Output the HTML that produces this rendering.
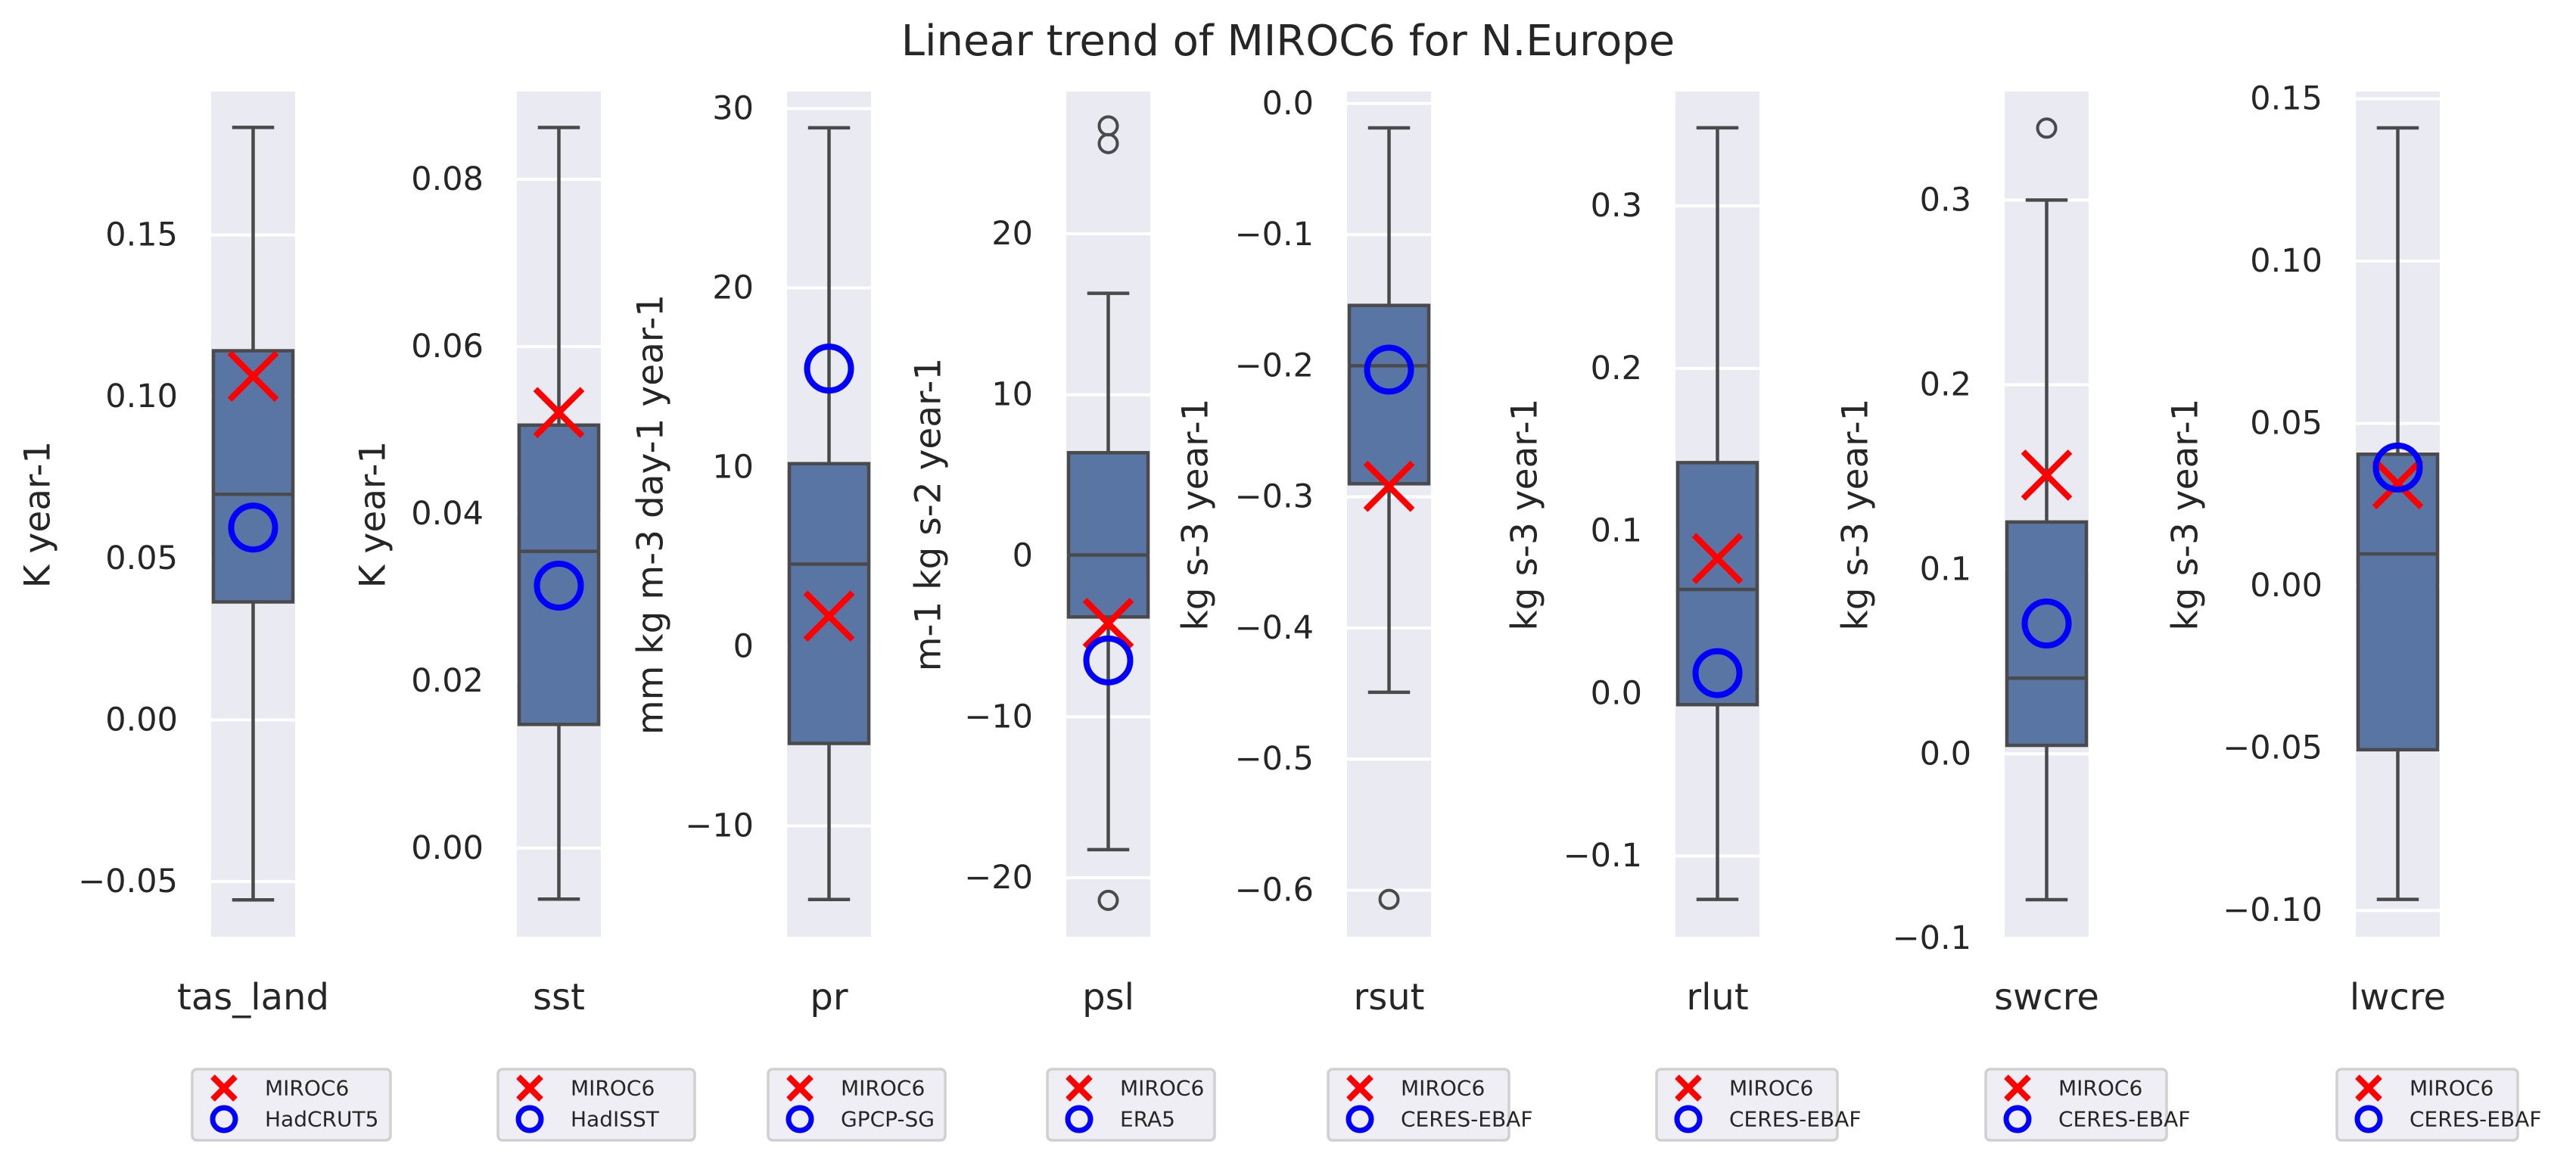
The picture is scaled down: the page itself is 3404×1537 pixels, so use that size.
<!DOCTYPE html>
<html><head><meta charset="utf-8"><style>
html,body{margin:0;padding:0;background:#fff;}
svg{display:block;font-family:"DejaVu Sans","Liberation Sans",sans-serif;}
</style></head><body>
<svg id="chart" width="3404" height="1537" viewBox="0 0 3404 1537" xmlns="http://www.w3.org/2000/svg">
<text x="1702" y="73" text-anchor="middle" font-size="56" fill="#262626">Linear trend of MIROC6 for N.Europe</text>
</svg>
<script>
// ---- data ----
const categories = ["tas_land","sst","pr","psl","rsut","rlut","swcre","lwcre"];
const yLabels = ["K year-1","K year-1","mm kg m-3 day-1 year-1","m-1 kg s-2 year-1","kg s-3 year-1","kg s-3 year-1","kg s-3 year-1","kg s-3 year-1"];
const obsNames = ["HadCRUT5","HadISST","GPCP-SG","ERA5","CERES-EBAF","CERES-EBAF","CERES-EBAF","CERES-EBAF"];
const whiskerLow = [-0.0557,-0.0061,-14.1,-18.25,-0.449,-0.1267,-0.079,-0.0966];
const q1Values = [0.0365,0.0148,-5.4,-3.8,-0.29,-0.0069,0.0046,-0.0505];
const medianValues = [0.0698,0.0355,4.6,0.05,-0.2,0.064,0.041,0.0098];
const q3Values = [0.1142,0.0506,10.2,6.4,-0.154,0.142,0.1256,0.0405];
const whiskerHigh = [0.1833,0.0862,28.93,16.3,-0.0186,0.348,0.3,0.141];
const outlierValues = [[],[],[],[26.7,25.6,-21.4],[-0.607],[],[0.339],[]];
const modelValues = [0.1063,0.0521,1.7,-4.2,-0.292,0.083,0.151,0.0314];
const obsValues = [0.0595,0.0314,15.5,-6.5,-0.203,0.0125,0.0706,0.0364];
const yMin = [-0.0671,-0.0106,-16.18,-23.66,-0.6355,-0.1497,-0.0991,-0.1081];
const yMax = [0.1944,0.0905,30.95,28.83,0.0091,0.3703,0.3588,0.1522];
const tickValues = [[-0.05,0,0.05,0.10,0.15],[0,0.02,0.04,0.06,0.08],[-10,0,10,20,30],[-20,-10,0,10,20],[-0.6,-0.5,-0.4,-0.3,-0.2,-0.1,0],[-0.1,0,0.1,0.2,0.3],[-0.1,0,0.1,0.2,0.3],[-0.10,-0.05,0,0.05,0.10,0.15]];
const tickDecimals = [2,2,0,0,1,1,1,2];
// ---- layout ----
const panelLeft = [279,683,1040,1409,1780,2214,2649,3113];
const panelW = 111;
const yLabelX = [50,493,860,1227,1580,2015,2452,2888];
const legendW = [262,260,234,221,239,239,239,239];
const TOP=121, BOT=1238;
const NS="http://www.w3.org/2000/svg";
const svg=document.getElementById('chart');
function mk(tag,attrs,parent){const e=document.createElementNS(NS,tag);for(const k in attrs)e.setAttribute(k,attrs[k]);(parent||svg).appendChild(e);return e;}
function fmt(v,d){let s=Math.abs(v).toFixed(d);return (v< -1e-9?'\u2212':'')+s;}
function drawX(g,cx,cy,h,col,w){
  mk('path',{d:`M${cx-h},${cy-h}L${cx+h},${cy+h}M${cx-h},${cy+h}L${cx+h},${cy-h}`,stroke:col,'stroke-width':w,fill:'none'},g);
}
for(let i=0;i<categories.length;i++){
  const L=panelLeft[i], cx=L+panelW/2;
  const y=v=>BOT-(v-yMin[i])/(yMax[i]-yMin[i])*(BOT-TOP);
  const g=mk('g',{});
  
  
  const bg=mk('rect',{x:L,y:TOP,width:panelW,height:BOT-TOP,fill:'#eaeaf2'},g);
  
  
  tickValues[i].forEach(t=>{
    const ty=y(t);
    const gl=mk('line',{x1:L,x2:L+panelW,y1:ty,y2:ty,stroke:'#fff','stroke-width':4},g);
    
    
    const tl=mk('text',{x:L-44,y:ty,'text-anchor':'end','dominant-baseline':'central','font-size':43,fill:'#262626'},g);
    tl.textContent=fmt(t,tickDecimals[i]);
    
    
  });
  const yl=mk('text',{x:yLabelX[i],y:680,transform:`rotate(-90 ${yLabelX[i]} 680)`,'text-anchor':'middle','dominant-baseline':'central','font-size':47,fill:'#262626'},g);
  yl.textContent=yLabels[i];
  
  
  const xl=mk('text',{x:cx,y:1318,'text-anchor':'middle','dominant-baseline':'central','font-size':48,fill:'#262626'},g);
  xl.textContent=categories[i];
  
  
  const lc='#4a4a4a', cw=panelW*0.5;
  const wk=mk('path',{d:`M${cx},${y(q3Values[i])}V${y(whiskerHigh[i])}M${cx-cw/2},${y(whiskerHigh[i])}H${cx+cw/2}M${cx},${y(q1Values[i])}V${y(whiskerLow[i])}M${cx-cw/2},${y(whiskerLow[i])}H${cx+cw/2}`,stroke:lc,'stroke-width':4.5,fill:'none'},g);
  
  
  const bx=mk('rect',{x:L+3,y:y(q3Values[i]),width:panelW-6,height:y(q1Values[i])-y(q3Values[i]),fill:'#5975a4',stroke:lc,'stroke-width':4.5},g);
  
  
  const md=mk('line',{x1:L+3,x2:L+panelW-3,y1:y(medianValues[i]),y2:y(medianValues[i]),stroke:lc,'stroke-width':4.5},g);
  
  
  outlierValues[i].forEach(v=>{
    const o=mk('circle',{cx:cx,cy:y(v),r:12,fill:'none',stroke:lc,'stroke-width':4},g);
    
    
  });
  const mg=mk('g',{},g);
  
  
  drawX(mg,cx,y(modelValues[i]),31,'#ff0000',8);
  const oc=mk('circle',{cx:cx,cy:y(obsValues[i]),r:29,fill:'none',stroke:'#0000ff','stroke-width':8},g);
  
  
  // legend
  const lg=mk('g',{},g);
  
  
  const lx=L-25;
  mk('rect',{x:lx,y:1413,width:legendW[i],height:94,rx:6,fill:'#eeeef4',stroke:'#d0d0d0','stroke-width':3.5},lg);
  const e1=mk('g',{},lg);
  
  
  drawX(e1,lx+42,1438,15,'#ff0000',8);
  const t1=mk('text',{x:lx+96,y:1438,'dominant-baseline':'central','font-size':28,fill:'#262626'},e1);
  t1.textContent='MIROC6';
  const e2=mk('g',{},lg);
  
  
  mk('circle',{cx:lx+42,cy:1479,r:15,fill:'none',stroke:'#0000ff','stroke-width':7},e2);
  const t2=mk('text',{x:lx+96,y:1479,'dominant-baseline':'central','font-size':28,fill:'#262626'},e2);
  t2.textContent=obsNames[i];
}
</script>
</body></html>
